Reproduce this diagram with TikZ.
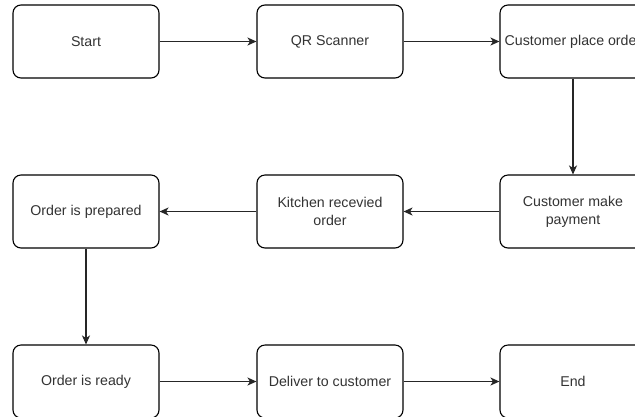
\documentclass[tikz,border=0pt]{standalone}
\usepackage{fontspec}
\setmainfont{Liberation Sans}
\usetikzlibrary{arrows.meta}
\begin{document}
\begin{tikzpicture}[x=1bp,y=-1bp,
  flowbox/.style={draw=black, line width=1.1bp, rounded corners=8bp, fill=white,
    minimum width=146bp, minimum height=73bp, inner sep=0pt, align=center,
    text=black!80, font=\fontsize{14.2bp}{18bp}\selectfont},
  flow/.style={draw=black!85, line width=1.1bp, -{Stealth[length=9bp,width=8bp,inset=2.5bp]}}]
\clip (0,0) rectangle (635,416);
\fill[white] (0,0) rectangle (635,416);
\node[flowbox] (start) at (86,41.5) {Start};
\node[flowbox] (qr) at (330,41.5) {QR Scanner};
\node[flowbox] (place) at (573,41.5) {Customer place order};
\node[flowbox] (pay) at (573,211.5) {Customer make\\payment};
\node[flowbox] (kitchen) at (330,211.5) {Kitchen recevied\\order};
\node[flowbox] (prepared) at (86,211.5) {Order is prepared};
\node[flowbox] (ready) at (86,381.5) {Order is ready};
\node[flowbox] (deliver) at (330,381.5) {Deliver to customer};
\node[flowbox] (end) at (573,381.5) {End};
\draw[flow] (start) -- (qr);
\draw[flow] (qr) -- (place);
\draw[flow] (place) -- (pay);
\draw[flow] (pay) -- (kitchen);
\draw[flow] (kitchen) -- (prepared);
\draw[flow] (prepared) -- (ready);
\draw[flow] (ready) -- (deliver);
\draw[flow] (deliver) -- (end);
\end{tikzpicture}
\end{document}
